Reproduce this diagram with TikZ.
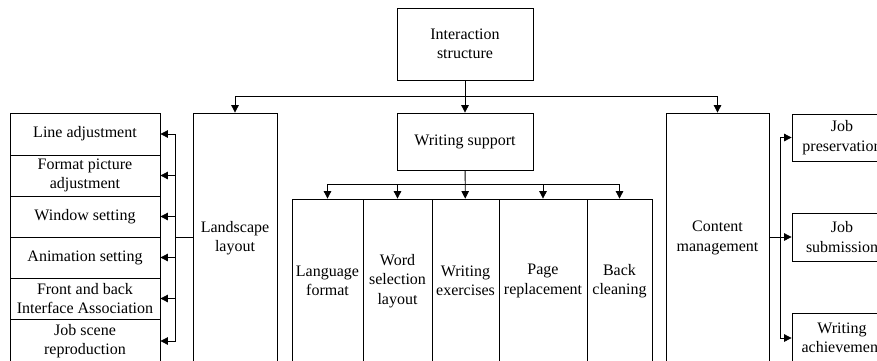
\documentclass[tikz,border=0pt]{standalone}
\usepackage{fontspec}
\setmainfont{Liberation Serif}
\usetikzlibrary{arrows.meta}
\begin{document}
\begin{tikzpicture}[x=1pt,y=-1pt,
  box/.style={draw, rectangle, inner sep=0pt, align=center, line width=0.8pt,
    font=\fontsize{16}{19.5}\selectfont},
  sz/.style 2 args={minimum width=#1pt, minimum height=#2pt},
  conn/.style={line width=0.8pt},
  arr/.style={line width=0.8pt, -{Triangle[length=7.5pt,width=7.5pt]}}]
\useasboundingbox (0,0) rectangle (877,360);
\clip (0,0) rectangle (877,360);
% main boxes
\node[box, sz={136}{72}] (top) at (465,44) {Interaction\\structure};
\node[box, sz={136}{57}] (ws) at (465,141.5) {Writing support};
\node[box, sz={84}{250}] (land) at (235,238) {Landscape\\layout};
\node[box, sz={103}{250}] (cm) at (717.5,238) {Content\\management};
% bottom boxes
\node[box, sz={71}{164}] (lf) at (327.5,281) {Language\\format};
\node[box, sz={69}{164}] (wsl) at (397.5,281) {Word\\selection\\layout};
\node[box, sz={67}{164}] (we) at (465.5,281) {Writing\\exercises};
\node[box, sz={88}{164}] (pr) at (543,281) {Page\\replacement};
\node[box, sz={65}{164}] (bc) at (619.5,281) {Back\\cleaning};
% left boxes
\node[box, sz={150}{42}] (l1) at (85,134) {Line adjustment};
\node[box, sz={150}{41}] (l2) at (85,175.5) {Format picture\\adjustment};
\node[box, sz={150}{41}] (l3) at (85,216.5) {Window setting};
\node[box, sz={150}{41}] (l4) at (85,257.5) {Animation setting};
\node[box, sz={150}{41}] (l5) at (85,298.5) {Front and back\\Interface Association};
\node[box, sz={150}{44}] (l6) at (85,341) {Job scene\\reproduction};
% right boxes
\node[box, sz={100}{47}] (r1) at (842,137.5) {Job\\preservation};
\node[box, sz={100}{48}] (r2) at (842,237) {Job\\submission};
\node[box, sz={100}{50}] (r3) at (842,338) {Writing\\achievement};
% hubs
\coordinate (hub) at (465,96);
\coordinate (hubb) at (465,184);
\coordinate (lbus) at (175,237);
\coordinate (rbus) at (780,237);
% connectors
\draw[arr] (top) -- (ws);
\draw[arr] (hub) -| (land.north);
\draw[arr] (hub) -| (cm.north);
\draw[arr] (ws) -- (we);
\draw[arr] (hubb) -| (lf.north);
\draw[arr] (hubb) -| (wsl.north);
\draw[arr] (hubb) -| (pr.north);
\draw[arr] (hubb) -| (bc.north);
\draw[conn] (land.west |- lbus) -- (lbus);
\foreach \n in {l1,l2,l3,l4,l5,l6} \draw[arr] (lbus) |- (\n.east);
\draw[conn] (cm.east |- rbus) -- (rbus);
\foreach \n in {r1,r2,r3} \draw[arr] (rbus) |- (\n.west);
\end{tikzpicture}
\end{document}
